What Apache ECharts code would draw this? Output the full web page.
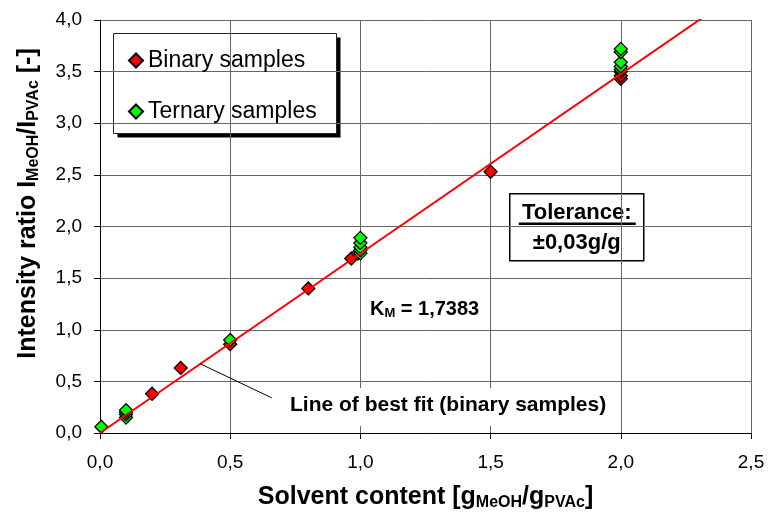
<!DOCTYPE html>
<html>
<head>
<meta charset="utf-8">
<script src="https://cdn.jsdelivr.net/npm/echarts@6/dist/echarts.min.js"></script>
<style>
  html, body { margin: 0; padding: 0; background: #fff; }
  #chart { width: 768px; height: 520px; }
</style>
</head>
<body>
<div id="chart"></div>
<script>
// data
const binarySamples = [
  [0.2, 0.38], [0.31, 0.63], [0.5, 0.86], [0.8, 1.40], [0.965, 1.69],
  [0.99, 1.74], [1.5, 2.53], [2.0, 3.43], [2.0, 3.46], [2.0, 3.50]
];
const ternarySamples = [
  [0.005, 0.06], [0.1, 0.15], [0.1, 0.18], [0.1, 0.20], [0.1, 0.22],
  [0.5, 0.90], [1.0, 1.74], [1.0, 1.77], [1.0, 1.80], [1.0, 1.84], [1.0, 1.89],
  [2.0, 3.52], [2.0, 3.55], [2.0, 3.59], [2.0, 3.69], [2.0, 3.72]
];
// line of best fit through the origin, slope K_M
const slopeKM = 1.7383;
const fitX = [0, 2.5];
// leader line from the fit line to its label
const leaderLine = [[0.385, 0.67], [0.66, 0.34]];

const FONT = 'Liberation Sans, Arial, sans-serif';
const fmt = v => v.toFixed(1).replace('.', ',');

const chart = echarts.init(document.getElementById('chart'));

const option = {
  animation: false,
  backgroundColor: '#fff',
  textStyle: { fontFamily: FONT, color: '#000' },
  grid: { left: 100, right: 17, top: 20, bottom: 87 },
  legend: {
    data: ['Binary samples', 'Ternary samples'],
    orient: 'vertical',
    left: 113,
    top: 33,
    padding: [16, 12, 12, 15],
    itemGap: 28,
    itemWidth: 14,
    itemHeight: 14,
    textStyle: { fontSize: 23, color: '#000', fontFamily: FONT }
  },
  xAxis: {
    type: 'value',
    min: 0,
    max: 2.5,
    interval: 0.5,
    name: '{a|Solvent content [g}{s|MeOH}{a|/g}{s|PVAc}{a|]}',
    nameLocation: 'middle',
    nameGap: 52,
    nameTextStyle: {
      rich: {
        a: { fontSize: 25, fontWeight: 'bold', lineHeight: 25, fontFamily: FONT },
        s: { fontSize: 16, fontWeight: 'bold', lineHeight: 16, padding: [11, 0, 0, 0], fontFamily: FONT }
      }
    },
    axisLine: { lineStyle: { color: '#000', width: 1 } },
    axisTick: { length: 6, lineStyle: { color: '#000' } },
    axisLabel: { fontSize: 19, color: '#000', margin: 20, formatter: fmt },
    splitLine: { show: true, lineStyle: { color: '#666', width: 1 } }
  },
  yAxis: {
    type: 'value',
    min: 0,
    max: 4,
    interval: 0.5,
    name: '{a|Intensity ratio I}{s|MeOH}{a|/I}{s|PVAc}{a| [-]}',
    nameLocation: 'middle',
    nameRotate: 90,
    nameGap: 59,
    nameTextStyle: {
      padding: [0, 0, 0, 46],
      rich: {
        a: { fontSize: 25, fontWeight: 'bold', lineHeight: 25, fontFamily: FONT },
        s: { fontSize: 16, fontWeight: 'bold', lineHeight: 16, padding: [11, 0, 0, 0], fontFamily: FONT }
      }
    },
    axisLine: { show: true, lineStyle: { color: '#000', width: 1 } },
    axisTick: { show: true, length: 6, lineStyle: { color: '#000' } },
    axisLabel: { fontSize: 19, color: '#000', margin: 18, formatter: fmt },
    splitLine: { show: true, lineStyle: { color: '#666', width: 1 } }
  },
  series: [
    {
      name: 'Binary samples',
      type: 'scatter',
      symbol: 'diamond',
      symbolSize: 13,
      itemStyle: { color: '#ff0000', borderColor: '#000', borderWidth: 1.3, opacity: 1 },
      data: binarySamples,
      z: 3
    },
    {
      name: 'Ternary samples',
      type: 'scatter',
      symbol: 'diamond',
      symbolSize: 13,
      itemStyle: { color: '#00ff00', borderColor: '#000', borderWidth: 1.3, opacity: 1 },
      data: ternarySamples,
      z: 4
    },
    {
      name: 'fit',
      type: 'line',
      symbol: 'none',
      clip: true,
      lineStyle: { color: '#ff0000', width: 2 },
      data: fitX.map(x => [x, slopeKM * x]),
      z: 5,
      silent: true
    },
    {
      name: 'leader',
      type: 'line',
      symbol: 'none',
      lineStyle: { color: '#000', width: 1 },
      data: leaderLine,
      z: 5,
      silent: true
    }
  ],
  graphic: [
    // legend frame with its hard shadow
    {
      type: 'group',
      left: 113,
      top: 33,
      z: 3,
      children: [
        {
          type: 'rect',
          shape: { x: 4, y: 4, width: 223, height: 100 },
          style: { fill: '#000' }
        },
        {
          type: 'rect',
          shape: { x: 0, y: 0, width: 223, height: 100 },
          style: { fill: '#fff', stroke: '#222', lineWidth: 1 }
        }
      ]
    },
    {
      type: 'text',
      left: 370,
      top: 298,
      z: 10,
      style: {
        text: '{a|K}{s|M}{a| = 1,7383}',
        rich: {
          a: { fontSize: 20, fontWeight: 'bold', lineHeight: 20, fontFamily: FONT, fill: '#000' },
          s: { fontSize: 13, fontWeight: 'bold', lineHeight: 13, padding: [9, 0, 0, 0], fontFamily: FONT, fill: '#000' }
        }
      }
    },
    {
      type: 'text',
      left: 285,
      top: 388,
      z: 10,
      style: {
        text: 'Line of best fit (binary samples)',
        font: 'bold 21px ' + FONT,
        fill: '#000',
        backgroundColor: '#fff',
        padding: [7, 5, 10, 5]
      }
    },
    {
      type: 'group',
      left: 509,
      top: 193,
      z: 10,
      children: [
        {
          type: 'rect',
          shape: { x: 0, y: 0, width: 134, height: 67 },
          style: { fill: '#fff', stroke: '#000', lineWidth: 1.5 }
        },
        {
          type: 'text',
          x: 67,
          y: 19,
          style: {
            text: 'Tolerance:',
            font: 'bold 22px ' + FONT,
            fill: '#000',
            align: 'center',
            verticalAlign: 'middle'
          }
        },
        {
          type: 'line',
          shape: { x1: 9, y1: 30, x2: 126, y2: 30 },
          style: { stroke: '#000', lineWidth: 2.5 }
        },
        {
          type: 'text',
          x: 67,
          y: 49,
          style: {
            text: '\u00b10,03g/g',
            font: 'bold 22px ' + FONT,
            fill: '#000',
            align: 'center',
            verticalAlign: 'middle'
          }
        }
      ]
    }
  ]
};

chart.setOption(option);
</script>
</body>
</html>
